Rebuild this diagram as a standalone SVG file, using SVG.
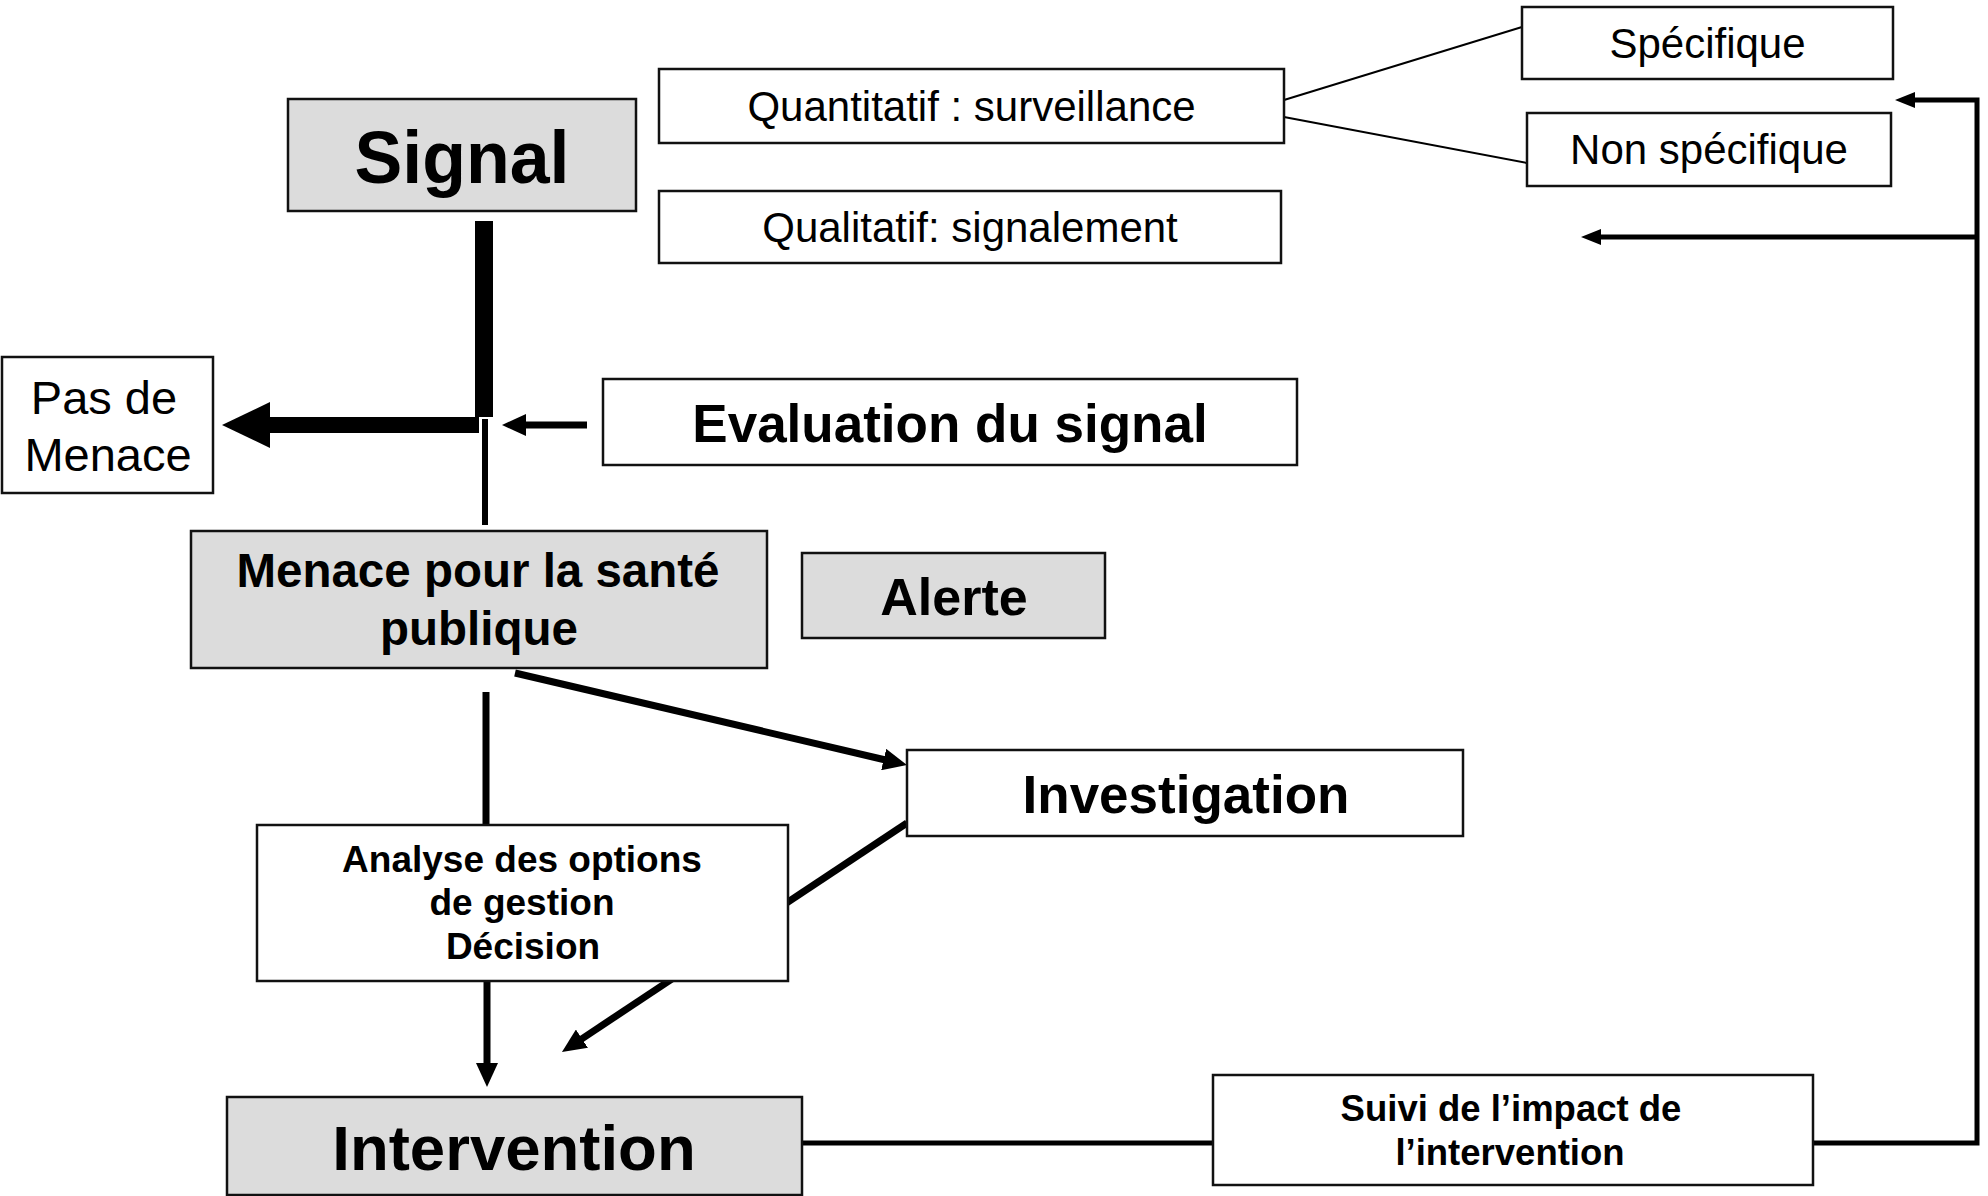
<svg xmlns="http://www.w3.org/2000/svg" width="1988" height="1196" viewBox="0 0 1988 1196">
<style>
.box{fill:#ffffff;stroke:#111111;stroke-width:2.5}
.gray{fill:#dcdcdc;stroke:#111111;stroke-width:2.5}
.t{font-family:"Liberation Sans",Arial,sans-serif;fill:#000000;text-anchor:middle}
.b{font-weight:bold}
.c{fill:none;stroke:#000000}
</style>
<defs>
<marker id="ah" markerUnits="userSpaceOnUse" markerWidth="24" markerHeight="22" refX="2" refY="11" orient="auto"><path d="M0,0 L24,11 L0,22 z" fill="#000"/></marker>
<marker id="ahs" markerUnits="userSpaceOnUse" markerWidth="20" markerHeight="16" refX="2" refY="8" orient="auto"><path d="M0,0 L20,8 L0,16 z" fill="#000"/></marker>
<marker id="ahb" markerUnits="userSpaceOnUse" markerWidth="48" markerHeight="46" refX="2" refY="23" orient="auto"><path d="M0,0 L48,23 L0,46 z" fill="#000"/></marker>
</defs>
<g id="connectors">
<path class="c" d="M484,221 V417" stroke-width="18"/>
<path class="c" d="M479,425 H268" stroke-width="16" marker-end="url(#ahb)"/>
<path class="c" d="M485,419 V525" stroke-width="6"/>
<path class="c" d="M587,425 H524" stroke-width="7" marker-end="url(#ah)"/>
<path class="c" d="M486,692 V825" stroke-width="7"/>
<path class="c" d="M487,981 V1065" stroke-width="7" marker-end="url(#ah)"/>
<path class="c" d="M515,673 L885.6,760" stroke-width="7" marker-end="url(#ah)"/>
<path class="c" d="M907,823 L580.3,1039.8" stroke-width="7" marker-end="url(#ah)"/>
<path class="c" d="M802,1143 H1213" stroke-width="5"/>
<path class="c" d="M1813,1143 H1977 V100 H1913" stroke-width="5" marker-end="url(#ahs)"/>
<path class="c" d="M1977,237 H1599" stroke-width="5" marker-end="url(#ahs)"/>
<path class="c" d="M1284,100 L1522,27" stroke-width="2"/>
<path class="c" d="M1284,117 L1527,163" stroke-width="2"/>
</g>
<g id="signal">
<rect class="gray" x="288" y="99" width="348" height="112"/>
<text class="t b" x="462" y="183" font-size="74" textLength="215" lengthAdjust="spacingAndGlyphs">Signal</text>
</g>
<g id="quantitatif">
<rect class="box" x="659" y="69" width="625" height="74"/>
<text class="t" x="971.5" y="121" font-size="42">Quantitatif : surveillance</text>
</g>
<g id="qualitatif">
<rect class="box" x="659" y="191" width="622" height="72"/>
<text class="t" x="970" y="242" font-size="42">Qualitatif: signalement</text>
</g>
<g id="specifique">
<rect class="box" x="1522" y="7" width="371" height="72"/>
<text class="t" x="1707.5" y="58" font-size="42">Spécifique</text>
</g>
<g id="non-specifique">
<rect class="box" x="1527" y="113" width="364" height="73"/>
<text class="t" x="1709" y="164" font-size="42">Non spécifique</text>
</g>
<g id="pas-de-menace">
<rect class="box" x="2" y="357" width="211" height="136"/>
<text class="t" x="104" y="414" font-size="47">Pas de</text>
<text class="t" x="108" y="471" font-size="47">Menace</text>
</g>
<g id="evaluation">
<rect class="box" x="603" y="379" width="694" height="86"/>
<text class="t b" x="950" y="442" font-size="53">Evaluation du signal</text>
</g>
<g id="menace">
<rect class="gray" x="191" y="531" width="576" height="137"/>
<text class="t b" x="478" y="587" font-size="47.5">Menace pour la santé</text>
<text class="t b" x="479" y="645" font-size="47.5">publique</text>
</g>
<g id="alerte">
<rect class="gray" x="802" y="553" width="303" height="85"/>
<text class="t b" x="954" y="615" font-size="52">Alerte</text>
</g>
<g id="investigation">
<rect class="box" x="907" y="750" width="556" height="86"/>
<text class="t b" x="1186" y="813" font-size="53">Investigation</text>
</g>
<g id="analyse">
<rect class="box" x="257" y="825" width="531" height="156"/>
<text class="t b" x="522" y="872" font-size="37">Analyse des options</text>
<text class="t b" x="522" y="915" font-size="37">de gestion</text>
<text class="t b" x="523" y="959" font-size="37">Décision</text>
</g>
<g id="intervention">
<rect class="gray" x="227" y="1097" width="575" height="98"/>
<text class="t b" x="514" y="1170" font-size="63.5">Intervention</text>
</g>
<g id="suivi">
<rect class="box" x="1213" y="1075" width="600" height="110"/>
<text class="t b" x="1511" y="1121" font-size="36.5">Suivi de l’impact de</text>
<text class="t b" x="1510" y="1165" font-size="36.5">l’intervention</text>
</g>
</svg>
